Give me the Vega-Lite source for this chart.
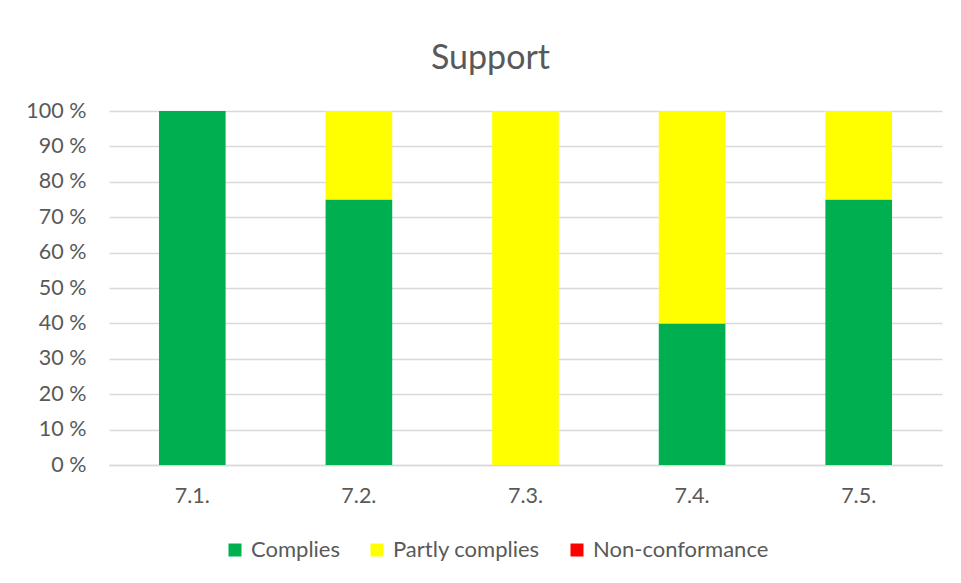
{
  "$schema": "https://vega.github.io/schema/vega-lite/v6.json",
  "width": 833,
  "height": 354,
  "autosize": "none",
  "padding": {"left": 109, "top": 111, "right": 19, "bottom": 118},
  "background": "white",
  "title": {"text": "Support", "fontSize": 34, "font": "Lato", "fontWeight": "normal", "color": "#595959", "anchor": "middle", "dx": -35, "offset": 24},
  "data": {"values": [
    {"clause": "7.1.", "status": "Complies", "ord": 1, "pct": 100},
    {"clause": "7.1.", "status": "Partly complies", "ord": 2, "pct": 0},
    {"clause": "7.1.", "status": "Non-conformance", "ord": 3, "pct": 0},
    {"clause": "7.2.", "status": "Complies", "ord": 1, "pct": 75},
    {"clause": "7.2.", "status": "Partly complies", "ord": 2, "pct": 25},
    {"clause": "7.2.", "status": "Non-conformance", "ord": 3, "pct": 0},
    {"clause": "7.3.", "status": "Complies", "ord": 1, "pct": 0},
    {"clause": "7.3.", "status": "Partly complies", "ord": 2, "pct": 100},
    {"clause": "7.3.", "status": "Non-conformance", "ord": 3, "pct": 0},
    {"clause": "7.4.", "status": "Complies", "ord": 1, "pct": 40},
    {"clause": "7.4.", "status": "Partly complies", "ord": 2, "pct": 60},
    {"clause": "7.4.", "status": "Non-conformance", "ord": 3, "pct": 0},
    {"clause": "7.5.", "status": "Complies", "ord": 1, "pct": 75},
    {"clause": "7.5.", "status": "Partly complies", "ord": 2, "pct": 25},
    {"clause": "7.5.", "status": "Non-conformance", "ord": 3, "pct": 0}
  ]},
  "mark": {"type": "bar"},
  "encoding": {
    "x": {"field": "clause", "type": "nominal", "sort": null,
      "scale": {"paddingInner": 0.6, "paddingOuter": 0.3},
      "axis": {"title": null, "labelAngle": 0, "ticks": false, "domainColor": "#D9D9D9", "domainWidth": 1.5, "labelPadding": 20, "labelFontSize": 21.5, "labelFont": "Lato", "labelColor": "#595959", "grid": false}},
    "y": {"field": "pct", "type": "quantitative", "stack": "zero",
      "scale": {"domain": [0, 100], "nice": false},
      "axis": {"title": null, "values": [0,10,20,30,40,50,60,70,80,90,100], "labelExpr": "datum.value + ' %'", "ticks": false, "domain": false, "gridColor": "#D9D9D9", "gridWidth": 1.5, "labelPadding": 23, "labelFontSize": 21.5, "labelFont": "Lato", "labelColor": "#595959"}},
    "color": {"field": "status", "type": "nominal",
      "scale": {"domain": ["Complies", "Partly complies", "Non-conformance"], "range": ["#00B050", "#FFFF00", "#FF0000"]},
      "legend": {"title": null, "orient": "none", "legendX": 115, "legendY": 428, "direction": "horizontal", "symbolType": "square", "symbolSize": 169, "symbolStrokeWidth": 0, "symbolOpacity": 1, "labelFontSize": 22, "labelFont": "Lato", "labelColor": "#595959", "labelOffset": 5, "columnPadding": 26, "labelLimit": 300}},
    "order": {"field": "ord", "type": "quantitative", "sort": "ascending"}
  },
  "config": {"view": {"stroke": null}}
}
